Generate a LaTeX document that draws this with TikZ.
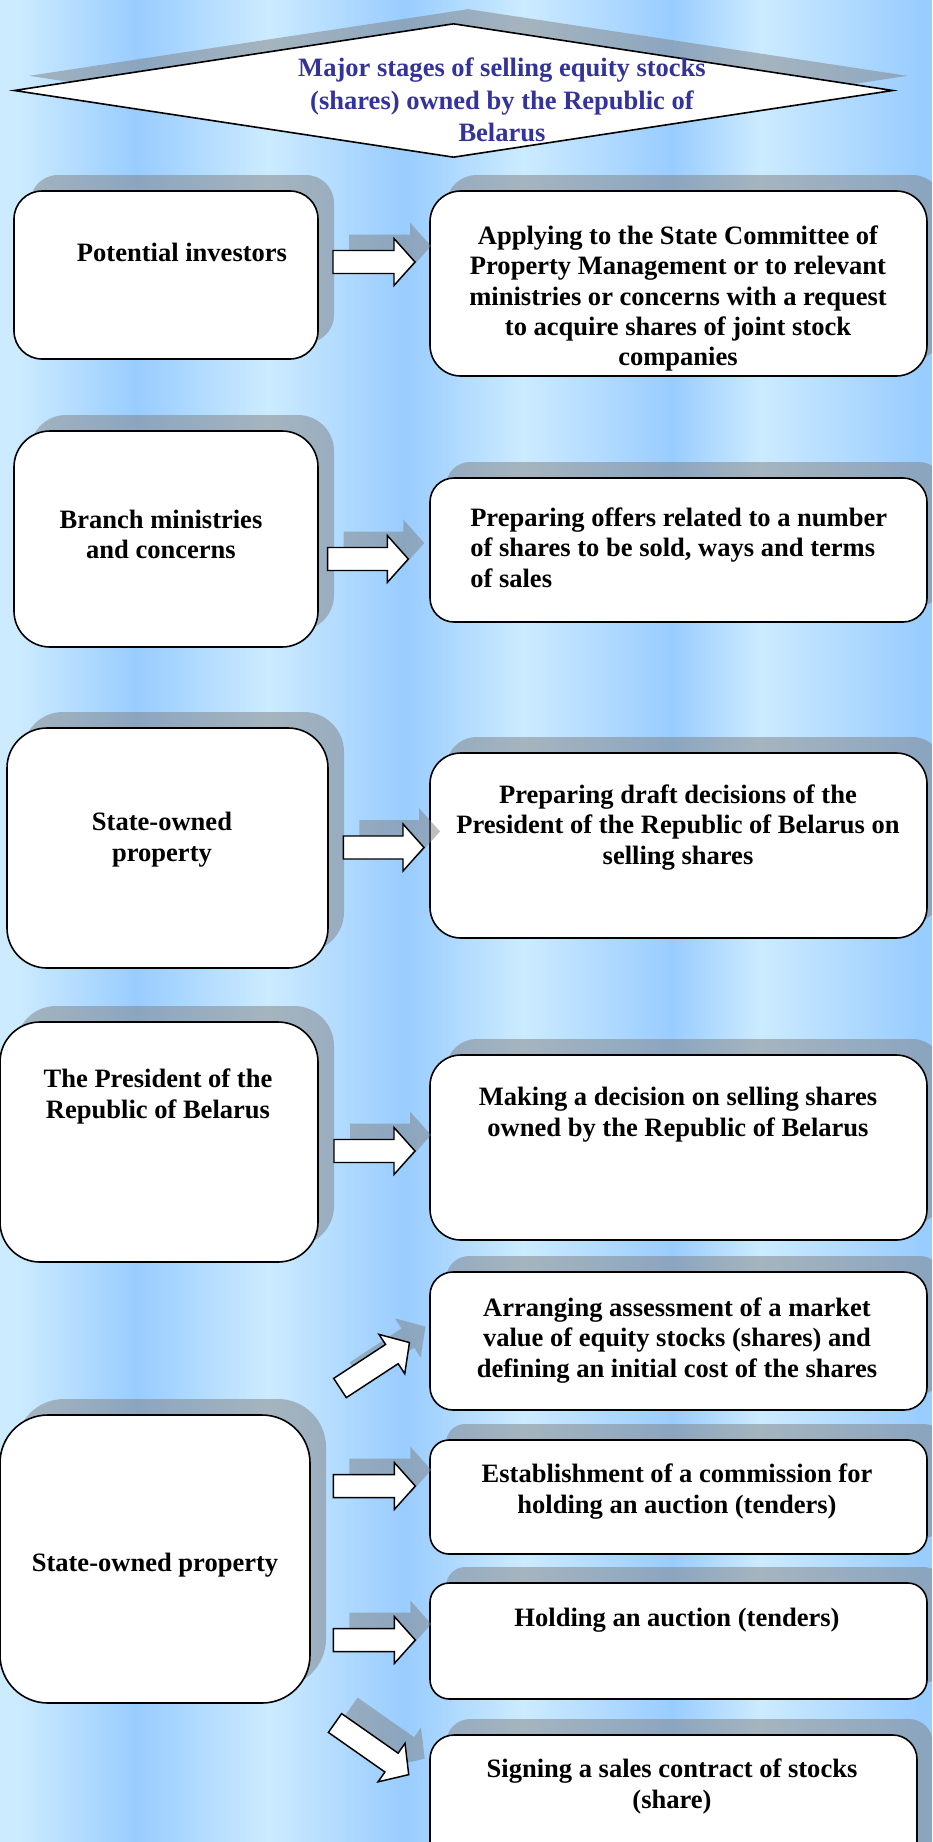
\documentclass[tikz,border=0pt]{standalone}
\usepackage{fontspec}
\setmainfont{Liberation Serif}
\usetikzlibrary{shapes.geometric,shadows}
\definecolor{bglight}{RGB}{204,235,255}
\definecolor{bgdark}{RGB}{153,204,255}
\definecolor{titleblue}{RGB}{51,51,153}
\newcommand\bx[5]{%
  \pgfmathsetmacro\bxw{#4-#2}\pgfmathsetmacro\bxh{#5-#3}%
  \pgfmathsetmacro\bxr{min(\bxw,\bxh)*0.125}%
  \node[box,minimum width=\bxw*0.75pt,minimum height=\bxh*0.75pt,rounded corners=\bxr pt] (#1) at ({(#2+#4)/2},{(#3+#5)/2}) {};}
\newcommand\barrow[5]{%
  \coordinate (#1) at (#2,#3);
  \begin{scope}[shift={(#2+16,#3-16)},rotate=#4]
    \fill[arrowshadow] (0,-11.5) -- ({#5-21},-11.5) -- ({#5-21},-23.5) -- (#5,0) -- ({#5-21},23.5) -- ({#5-21},11.5) -- (0,11.5) -- cycle;
  \end{scope}
  \begin{scope}[shift={(#1)},rotate=#4]
    \draw[arrowline] (0,-11.5) -- ({#5-21},-11.5) -- ({#5-21},-23.5) -- (#5,0) -- ({#5-21},23.5) -- ({#5-21},11.5) -- (0,11.5) -- cycle;
  \end{scope}}
\begin{document}
\begin{tikzpicture}[x=0.75pt,y=-0.75pt,
  box/.style={draw=black,line width=1.2pt,fill=white,inner sep=0pt,
    drop shadow={shadow xshift=12pt,shadow yshift=12pt,opacity=0.5,fill=black!50}},
  txt/.style={font=\fontsize{19.9}{22.8}\selectfont\bfseries,align=center,inner sep=0pt,text=black,yshift=-1.9pt},
  arrowline/.style={draw=black,line width=1.1pt,fill=white,line join=miter},
  arrowshadow/.style={fill=black!50,opacity=0.5}]
\useasboundingbox (0,0) rectangle (932,1842);
\clip (0,0) rectangle (932,1842);
% background stripes
\fill[bglight] (0,0) rectangle (18.5,1842);
\shade[left color=bglight,right color=bgdark] (18,0) rectangle (137.5,1842);
\shade[left color=bgdark,right color=bglight] (137,0) rectangle (268.5,1842);
\shade[left color=bglight,right color=bgdark] (268,0) rectangle (404.5,1842);
\shade[left color=bgdark,right color=bglight] (404,0) rectangle (523.5,1842);
\shade[left color=bglight,right color=bgdark] (523,0) rectangle (672.5,1842);
\shade[left color=bgdark,right color=bglight] (672,0) rectangle (760.5,1842);
\shade[left color=bglight,right color=bgdark] (760,0) rectangle (921.5,1842);
\fill[bgdark] (921,0) rectangle (932,1842);
% title
\node[diamond,draw=black,line width=1.2pt,fill=white,inner sep=0pt,
  minimum width=879*0.75pt,minimum height=134*0.75pt,
  drop shadow={shadow xshift=11pt,shadow yshift=11pt,opacity=0.5,fill=black!50}] (title) at (453.5,90.5) {};
\node[txt,text=titleblue,font=\fontsize{19.9}{24.2}\selectfont\bfseries,yshift=1.9pt] (titletext) at (502,100)
  {Major stages of selling equity stocks\\(shares) owned by the Republic of\\Belarus};
% boxes
\bx{L1}{14}{191}{318}{359}
\bx{R1}{430}{191}{927}{376}
\bx{L2}{14}{431}{318}{647}
\bx{R2}{430}{478}{927}{622}
\bx{L3}{7}{728}{328}{968}
\bx{R3}{430}{753}{927}{938}
\bx{L4}{0}{1022}{318}{1262}
\bx{R4}{430}{1055}{927}{1240}
\bx{L5}{0}{1415}{310}{1703}
\bx{R5}{430}{1272}{927}{1410}
\bx{R6}{430}{1440}{927}{1554}
\bx{R7}{430}{1583}{927}{1699}
\bx{R8}{430}{1735}{917}{1880}
% arrows
\barrow{a1}{333}{262}{0}{82}
\barrow{a2}{327.7}{559}{0}{80.6}
\barrow{a3}{343.3}{847.5}{0}{80.7}
\barrow{a4}{334}{1151}{0}{81}
\barrow{a5}{340}{1388}{33.2}{83}
\barrow{a6}{333.3}{1486}{0}{82}
\barrow{a7}{333.3}{1640}{0}{82}
\barrow{a8}{335}{1723}{-35}{90}
% texts
\node[txt] (L1t) at (182,250) {Potential investors};
\node[txt] (R1t) at (678,296) {Applying to the State Committee of\\Property Management or to relevant\\ministries or concerns with a request\\to acquire shares of joint stock\\companies};
\node[txt] (L2t) at (161,532) {Branch ministries\\and concerns};
\node[txt,align=left,anchor=west] (R2t) at (470,545) {Preparing offers related to a number\\of shares to be sold, ways and terms\\of sales};
\node[txt] (L3t) at (162,837) {State-owned\\property};
\node[txt] (R3t) at (678,825) {Preparing draft decisions of the\\President of the Republic of Belarus on\\selling shares};
\node[txt] (L4t) at (158,1094) {The President of the\\Republic of Belarus};
\node[txt] (R4t) at (678,1112) {Making a decision on selling shares\\owned by the Republic of Belarus};
\node[txt] (L5t) at (155,1563) {State-owned property};
\node[txt] (R5t) at (677,1338) {Arranging assessment of a market\\value of equity stocks (shares) and\\defining an initial cost of the shares};
\node[txt] (R6t) at (677,1489) {Establishment of a commission for\\holding an auction (tenders)};
\node[txt] (R7t) at (677,1618) {Holding an auction (tenders)};
\node[txt] (R8t) at (672,1784) {Signing a sales contract of stocks\\(share)};
\end{tikzpicture}
\end{document}
